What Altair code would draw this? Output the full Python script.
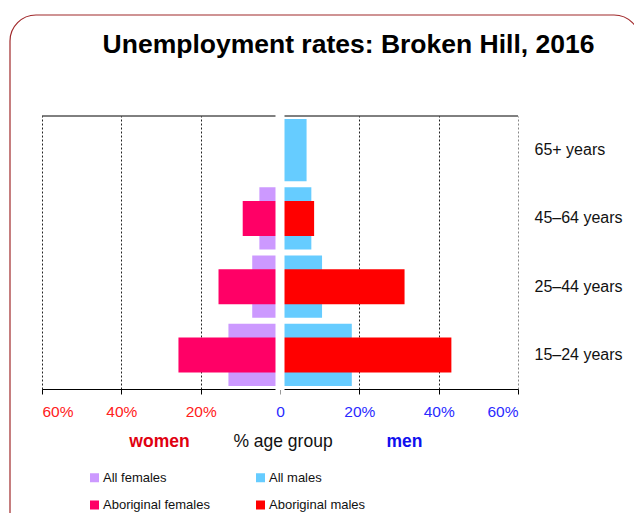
import altair as alt
import pandas as pd

# ---- data ----
age_groups = ["65+ years", "45–64 years", "25–44 years", "15–24 years"]
all_females = [0.0, 5.2, 7.0, 13.0]
aboriginal_females = [0.0, 9.4, 15.5, 25.6]
all_males = [6.7, 7.9, 10.6, 18.1]
aboriginal_males = [0.0, 8.6, 31.4, 43.2]

series_names = ["All females", "Aboriginal females", "All males", "Aboriginal males"]
series_colors = ["#CC99FF", "#FF0066", "#66CCFF", "#FF0000"]
x_ticks = [-60, -40, -20, 0, 20, 40, 60]

title_text = ["Unemployment rates: Broken Hill, 2016"]
women_text = ["women"]
axis_text = ["% age group"]
men_text = ["men"]

SANS = "Liberation Sans, Arial, sans-serif"

rows = []
for name, vals, sign, kind in [
    ("All females", all_females, -1, "All"),
    ("All males", all_males, 1, "All"),
    ("Aboriginal females", aboriginal_females, -1, "Aboriginal"),
    ("Aboriginal males", aboriginal_males, 1, "Aboriginal"),
]:
    for a, v in zip(age_groups, vals):
        rows.append({"age": a, "series": name, "value": sign * v, "kind": kind})
df = pd.DataFrame(rows)

W, H = 476, 273

x = alt.X(
    "value:Q",
    scale=alt.Scale(domain=[-60, 60], nice=False),
    axis=alt.Axis(
        values=x_ticks,
        title=None,
        grid=True,
        gridDash=[2, 2],
        gridColor={"condition": {"test": "datum.value == 60", "value": "#888888"}, "value": "#222222"},
        gridWidth=1,
        labelExpr="datum.value == 0 ? '0' : abs(datum.value) + '%'",
        labelColor={"condition": {"test": "datum.value < 0", "value": "#FF2020"}, "value": "#2A2AFF"},
        labelFont=SANS,
        labelFontSize=15.5,
        labelPadding=10,
        tickSize=5,
        tickColor={"condition": {"test": "datum.value == 0", "value": "#999999"}, "value": "#000000"},
        domainColor="#000000",
        domainWidth=1,
    ),
)
y = alt.Y(
    "age:N",
    sort=age_groups,
    scale=alt.Scale(paddingInner=0.09, paddingOuter=0.045),
    axis=alt.Axis(
        orient="right",
        title=None,
        ticks=False,
        domain=False,
        labelPadding=16,
        labelFont=SANS,
        labelFontSize=16,
        labelColor="#111111",
        labelAlign="left",
    ),
)
color = alt.Color(
    "series:N",
    scale=alt.Scale(domain=series_names, range=series_colors),
    legend=alt.Legend(
        orient="none",
        legendX=46,
        legendY=355,
        columns=2,
        title=None,
        symbolType="square",
        symbolSize=81,
        symbolStrokeWidth=0,
        symbolOpacity=1,
        labelFont=SANS,
        labelFontSize=13,
        labelColor="#111111",
        labelOffset=2,
        columnPadding=44,
        rowPadding=13.5,
        padding=0,
    ),
)

base = alt.Chart(df)
all_bars = base.transform_filter("datum.kind == 'All'").mark_bar().encode(x=x, y=y, color=color)
abor_bars = base.transform_filter("datum.kind == 'Aboriginal'").mark_bar(size=35).encode(x=x, y=y, color=color)

one = pd.DataFrame({"v": [0]})
top_line = alt.Chart(one).mark_rule(color="#000000", strokeWidth=1).encode(
    x=alt.value(0), x2=alt.value(W), y=alt.value(0)
)
gap = alt.Chart(one).mark_rule(color="white", strokeWidth=9).encode(
    x=alt.datum(0), y=alt.value(-1), y2=alt.value(H + 1)
)
frame = alt.Chart(one).mark_rect(
    fillOpacity=0, stroke="#A0282A", strokeWidth=1.2, cornerRadius=26
).encode(x=alt.value(-32), x2=alt.value(598), y=alt.value(-101), y2=alt.value(460))

title = alt.Chart(pd.DataFrame({"t": title_text})).mark_text(
    font=SANS, fontSize=26.5, fontWeight="bold", color="#000000", align="center", baseline="alphabetic"
).encode(x=alt.value(306.5), y=alt.value(-63), text="t:N")
women = alt.Chart(pd.DataFrame({"t": women_text})).mark_text(
    font=SANS, fontSize=17.5, fontWeight="bold", color="#E00010", align="center", baseline="alphabetic"
).encode(x=alt.value(117.5), y=alt.value(330.7), text="t:N")
axis_lbl = alt.Chart(pd.DataFrame({"t": axis_text})).mark_text(
    font=SANS, fontSize=17.5, color="#111111", align="center", baseline="alphabetic"
).encode(x=alt.value(241), y=alt.value(330.7), text="t:N")
men = alt.Chart(pd.DataFrame({"t": men_text})).mark_text(
    font=SANS, fontSize=17.5, fontWeight="bold", color="#1010EE", align="center", baseline="alphabetic"
).encode(x=alt.value(362.5), y=alt.value(330.7), text="t:N")

chart = alt.layer(
    frame, all_bars, abor_bars, top_line, gap, title, women, axis_lbl, men
).properties(
    width=W,
    height=H,
    autosize=alt.AutoSizeParams(type="none"),
    padding={"left": 34, "top": 108, "right": 116, "bottom": 124},
).configure_view(stroke=None)

chart.save("out.html", embed_options={"renderer": "svg", "actions": False})
